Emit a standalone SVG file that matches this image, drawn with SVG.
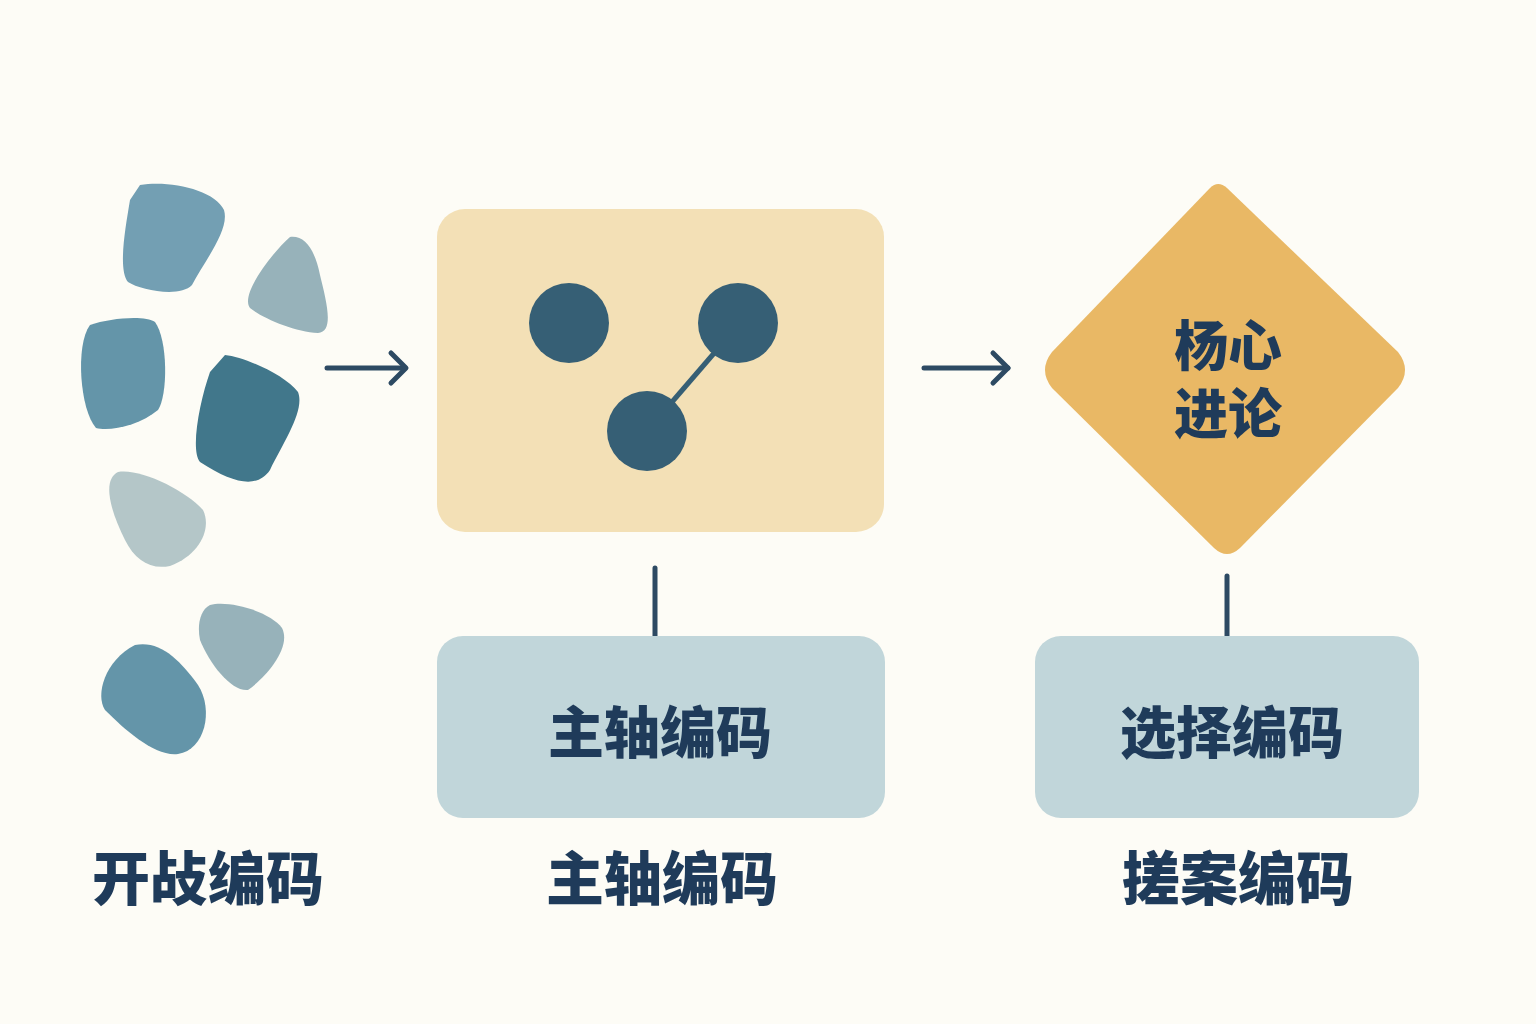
<svg xmlns="http://www.w3.org/2000/svg" width="1536" height="1024" viewBox="0 0 1536 1024">
<defs>
<style>
.t{font-family:"Noto Sans CJK SC","Noto Sans",sans-serif;font-weight:900;fill:#1f3b5a;text-anchor:middle}
.ln{stroke:#2d4a63;stroke-width:5;fill:none;stroke-linecap:round;stroke-linejoin:round}
.dot{fill:#365f75}
</style>
</defs>
<rect width="1536" height="1024" fill="#fdfcf6"/>
<g id="fragments">
<path d="M140,185 C170,180 215,190 224,210 C230,230 205,260 192,285 C180,298 140,290 128,282 C118,270 125,230 130,200 Z" fill="#739fb3"/>
<path d="M290,237 C305,235 315,250 320,275 C326,300 335,332 318,333 C295,332 262,318 250,308 C240,295 270,255 290,237 Z" fill="#97b2ba"/>
<path d="M90,325 C110,318 145,315 155,322 C168,340 168,395 158,410 C140,425 110,432 96,428 C80,410 75,345 90,325 Z" fill="#6495a9"/>
<path d="M225,355 C245,357 285,375 298,392 C305,410 285,440 270,470 C258,488 235,485 200,462 C190,450 200,400 210,372 Z" fill="#41778b"/>
<path d="M118,472 C140,468 185,490 203,510 C212,528 200,555 170,566 C150,570 135,560 125,540 C110,510 102,480 118,472 Z" fill="#b4c6c8"/>
<path d="M210,605 C230,600 270,612 282,628 C292,648 265,678 248,690 C232,692 210,665 200,640 C197,625 200,610 210,605 Z" fill="#97b2ba"/>
<path d="M135,645 C160,640 180,660 198,685 C214,710 205,750 178,754 C155,757 125,730 105,710 C95,695 105,660 135,645 Z" fill="#6495a9"/>
</g>
<g id="connectors">
<line class="ln" x1="327" y1="368" x2="405" y2="368"/>
<path class="ln" d="M391,353 L406,368 L391,383"/>
<line class="ln" x1="924" y1="368" x2="1008" y2="368"/>
<path class="ln" d="M993,353 L1008,368 L993,383"/>
<line class="ln" x1="655" y1="568" x2="655" y2="636"/>
<line class="ln" x1="1227" y1="576" x2="1227" y2="636"/>
</g>
<g id="axial-box">
<rect x="437" y="209" width="447" height="323" rx="28" fill="#f3e0b6"/>
<line x1="672" y1="402" x2="722" y2="344" stroke="#365f75" stroke-width="5"/>
<circle class="dot" cx="569" cy="323" r="40"/>
<circle class="dot" cx="738" cy="323" r="40"/>
<circle class="dot" cx="647" cy="431" r="40"/>
</g>
<g id="core">
<path d="M1227,188 L1398,352 Q1412,370 1398,388 L1240,548 Q1227,560 1214,548 L1052,388 Q1038,370 1052,352 L1210,188 Q1218,180 1227,188 Z" fill="#e9b865"/>
<text class="t" x="1228" y="366" font-size="54">杨心</text>
<text class="t" x="1228" y="434" font-size="54">进论</text>
</g>
<g id="axial-label">
<rect x="437" y="636" width="448" height="182" rx="26" fill="#c1d6da"/>
<text class="t" x="660" y="753" font-size="56">主轴编码</text>
</g>
<g id="selective-label">
<rect x="1035" y="636" width="384" height="182" rx="26" fill="#c1d6da"/>
<text class="t" x="1232" y="753" font-size="56">选择编码</text>
</g>
<g id="captions">
<text class="t" x="208" y="900" font-size="58">开敁编码</text>
<text class="t" x="662" y="900" font-size="58">主轴编码</text>
<text class="t" x="1238" y="900" font-size="58">搓案编码</text>
</g>
</svg>
